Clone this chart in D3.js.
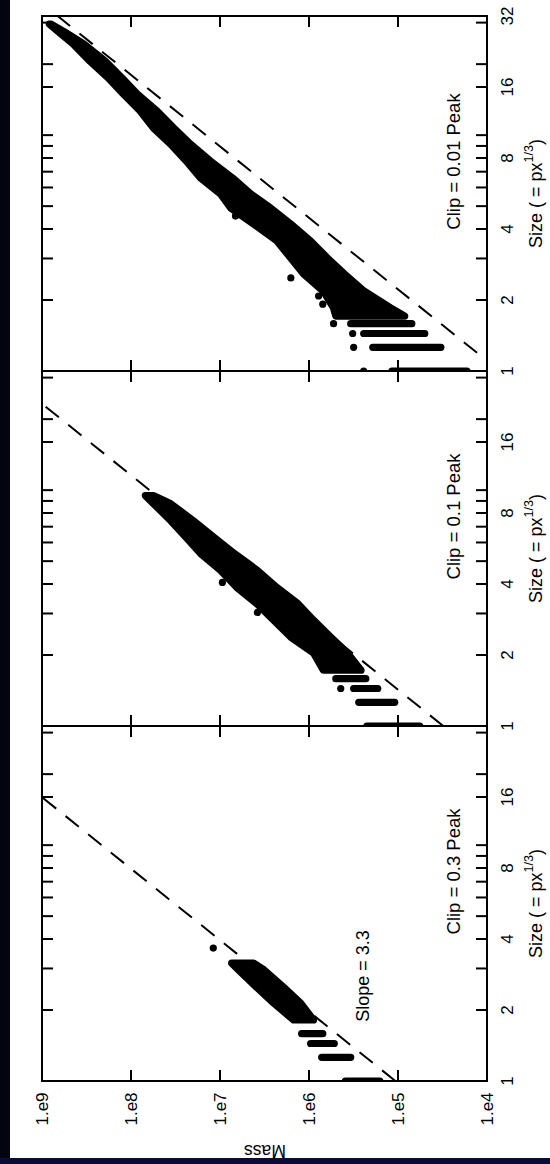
<!DOCTYPE html>
<html>
<head>
<meta charset="utf-8">
<script src="https://cdn.jsdelivr.net/npm/d3@7"></script>
<style>
  html, body { margin: 0; padding: 0; background: #fff; }
  svg { display: block; }
</style>
</head>
<body>
<script>
// Mass against size (size = pixels^(1/3)) for objects found at three clipping levels.

const massTicks = [1e9, 1e8, 1e7, 1e6, 1e5, 1e4];
const massTickLabels = ["1.e9", "1.e8", "1.e7", "1.e6", "1.e5", "1.e4"];
const sizeTicks = [1, 2, 3, 4, 5, 6, 7, 8, 9, 10, 16, 20, 30, 32];
const sizeLabelValues = [1, 2, 4, 8, 16, 32];
const clipLevels = ["0.01", "0.1", "0.3"];

// reference power law: mass = refMassAtUnitSize * size^refSlope
const refSlope = 3.3;
const refMassAtUnitSize = [7.2e3, 3.1e4, 1.07e5];

// small objects: one row of points per discrete size  [size, largest mass, smallest mass]
const rowsClip001 = [[1, 1.17e5, 1.68e4], [1.26, 1.92e5, 3.3e4], [1.442, 2.43e5, 5.0e4], [1.587, 3.4e5, 7.0e4]];
const rowsClip01  = [[1, 2.24e5, 5.7e4], [1.26, 2.76e5, 1.09e5], [1.442, 3.15e5, 1.69e5], [1.587, 5.0e5, 2.3e5]];
const rowsClip03  = [[1, 3.9e5, 1.6e5], [1.26, 7.2e5, 3.4e5], [1.442, 9.6e5, 5.2e5], [1.587, 1.21e6, 7.0e5]];

// larger objects: extent of the dense cloud of points  [size, largest mass, smallest mass]
const cloudClip001 = [
  [1.71, 5.0e5, 8.4e4], [1.85, 5.3e5, 1.2e5], [2.18, 6.9e5, 2.4e5], [2.58, 1.15e6, 4.0e5],
  [3.01, 1.6e6, 6.2e5], [3.56, 2.3e6, 9.6e5], [4.20, 4.2e6, 1.6e6], [4.91, 7.6e6, 2.7e6],
  [5.63, 9.9e6, 4.5e6], [6.58, 1.66e7, 7.2e6], [7.77, 2.4e7, 1.28e7], [9.17, 3.6e7, 2.15e7],
  [10.72, 5.6e7, 3.3e7], [12.66, 7.9e7, 5.1e7], [14.94, 1.22e8, 8.5e7], [17.47, 1.8e8, 1.26e8],
  [20.6, 2.9e8, 1.95e8], [24.4, 4.5e8, 3.4e8], [27.4, 6.5e8, 5.6e8], [29.6, 8.3e8, 8.0e8]
];
const cloudClip01 = [
  [1.725, 6.9e5, 2.6e5], [2.04, 8.9e5, 3.7e5], [2.38, 1.6e6, 5.7e5], [2.81, 2.5e6, 8.9e5],
  [3.31, 3.9e6, 1.34e6], [3.87, 6.5e6, 2.3e6], [4.57, 9.9e6, 3.8e6], [5.39, 1.66e7, 6.9e6],
  [6.30, 2.4e7, 1.16e7], [7.43, 3.6e7, 2.0e7], [8.77, 5.6e7, 3.6e7], [9.48, 6.9e7, 5.6e7]
];
const cloudClip03 = [
  [1.814, 1.49e6, 8.9e5], [2.14, 2.5e6, 1.24e6], [2.50, 3.9e6, 1.93e6],
  [2.96, 6.2e6, 3.2e6], [3.16, 7.4e6, 4.2e6]
];

// isolated points  [size, mass]
const pointsClip001 = [[1, 2.43e5], [1.26, 3.15e5], [1.442, 3.23e5], [1.587, 5.3e5],
                       [1.92, 7.0e5], [2.08, 7.8e5], [2.48, 1.6e6], [4.54, 6.7e6]];
const pointsClip01  = [[1.442, 4.4e5], [3.03, 3.8e6], [4.06, 9.4e6]];
const pointsClip03  = [[3.66, 1.19e7]];

const panelRows = [rowsClip001, rowsClip01, rowsClip03];
const panelClouds = [cloudClip001, cloudClip01, cloudClip03];
const panelPoints = [pointsClip001, pointsClip01, pointsClip03];

// ---------------------------------------------------------------------------

const W = 550, H = 1164;
const plotLeft = 42, plotRight = 487, plotTop = 16, plotBottom = 1081;
const panelH = (plotBottom - plotTop) / 3;
const ink = "#000";
const font = "'Liberation Sans', Arial, Helvetica, sans-serif";
const dotR = 3.6;

const svg = d3.select("body").append("svg")
  .attr("width", W).attr("height", H)
  .style("font-family", font);

svg.append("rect").attr("width", W).attr("height", H).attr("fill", "#fff");

// window edges
svg.append("rect").attr("x", 0).attr("y", 0).attr("width", 10).attr("height", H).attr("fill", "#03040f");
svg.append("rect").attr("x", 0).attr("y", 1158).attr("width", W).attr("height", H - 1158).attr("fill", "#0a0b36");

const x = d3.scaleLog().domain([1e9, 1e4]).range([plotLeft, plotRight]);

clipLevels.forEach((clip, i) => {
  const y0 = plotTop + i * panelH, y1 = y0 + panelH;
  const y = d3.scaleLog().base(2).domain([1, 32]).range([y1, y0]);
  const g = svg.append("g");

  const clipId = "panel-clip-" + i;
  svg.append("clipPath").attr("id", clipId)
    .append("rect").attr("x", plotLeft).attr("y", y0).attr("width", plotRight - plotLeft).attr("height", panelH);

  const plot = g.append("g").attr("clip-path", `url(#${clipId})`);

  // reference power law
  const refLine = d3.line().x(d => x(d[1])).y(d => y(d[0]));
  const refSizes = [1, 32];
  plot.append("path")
    .datum(refSizes.map(s => [s, refMassAtUnitSize[i] * Math.pow(s, refSlope)]))
    .attr("d", refLine)
    .attr("fill", "none").attr("stroke", ink).attr("stroke-width", 2)
    .attr("stroke-dasharray", "17,12");

  // dense cloud
  const area = d3.area()
    .y(d => y(d[0]))
    .x0(d => x(d[1]))
    .x1(d => x(d[2]));
  plot.append("path")
    .datum(panelClouds[i])
    .attr("d", area)
    .attr("fill", ink).attr("stroke", ink)
    .attr("stroke-width", dotR * 2).attr("stroke-linejoin", "round");

  // discrete-size rows
  plot.selectAll("line.row").data(panelRows[i]).join("line")
    .attr("class", "row")
    .attr("x1", d => x(d[1])).attr("x2", d => x(d[2]))
    .attr("y1", d => y(d[0])).attr("y2", d => y(d[0]))
    .attr("stroke", ink).attr("stroke-width", dotR * 2).attr("stroke-linecap", "round");

  // isolated points
  plot.selectAll("circle").data(panelPoints[i]).join("circle")
    .attr("cx", d => x(d[1])).attr("cy", d => y(d[0])).attr("r", dotR)
    .attr("fill", ink);

  // frame
  g.append("rect").attr("x", plotLeft).attr("y", y0).attr("width", plotRight - plotLeft).attr("height", panelH)
    .attr("fill", "none").attr("stroke", ink).attr("stroke-width", 2);

  const tick = 11;
  // mass ticks, inward from top and bottom of the panel
  massTicks.forEach(m => {
    g.append("line").attr("x1", x(m)).attr("x2", x(m)).attr("y1", y0).attr("y2", y0 + tick)
      .attr("stroke", ink).attr("stroke-width", 2);
    g.append("line").attr("x1", x(m)).attr("x2", x(m)).attr("y1", y1).attr("y2", y1 - tick)
      .attr("stroke", ink).attr("stroke-width", 2);
  });
  // size ticks, inward from both sides
  sizeTicks.forEach(s => {
    g.append("line").attr("x1", plotLeft).attr("x2", plotLeft + tick).attr("y1", y(s)).attr("y2", y(s))
      .attr("stroke", ink).attr("stroke-width", 2);
    g.append("line").attr("x1", plotRight).attr("x2", plotRight - tick).attr("y1", y(s)).attr("y2", y(s))
      .attr("stroke", ink).attr("stroke-width", 2);
  });

  // size labels (the top one only where it does not meet the panel above)
  sizeLabelValues.filter(s => s < 32 || i === 0).forEach(s => {
    g.append("text")
      .attr("transform", `translate(507,${y(s)}) rotate(-90)`)
      .attr("text-anchor", "middle").attr("dominant-baseline", "central")
      .attr("font-size", 17).attr("fill", ink)
      .text(String(s));
  });

  const cy = (y0 + y1) / 2;
  const title = g.append("text")
    .attr("transform", `translate(536,${cy}) rotate(-90)`)
    .attr("text-anchor", "middle").attr("dominant-baseline", "central")
    .attr("font-size", 18).attr("fill", ink);
  title.append("tspan").text("Size ( = px");
  title.append("tspan").attr("font-size", 12.5).attr("dy", -7).text("1/3");
  title.append("tspan").attr("dy", 7).text(")");

  g.append("text")
    .attr("transform", `translate(453,${cy - 32}) rotate(-90)`)
    .attr("text-anchor", "middle").attr("dominant-baseline", "central")
    .attr("font-size", 18.5).attr("fill", ink)
    .text(`Clip = ${clip} Peak`);

  if (i === 2) {
    g.append("text")
      .attr("transform", `translate(363,976) rotate(-90)`)
      .attr("text-anchor", "middle").attr("dominant-baseline", "central")
      .attr("font-size", 18).attr("fill", ink)
      .text(`Slope = ${refSlope}`);
  }
});

// mass axis labels
massTicks.forEach((m, k) => {
  svg.append("text")
    .attr("transform", `translate(${x(m)},1109) rotate(-90)`)
    .attr("text-anchor", "middle").attr("dominant-baseline", "central")
    .attr("font-size", 17).attr("fill", ink)
    .text(massTickLabels[k]);
});

svg.append("text")
  .attr("transform", `translate(265,1151) rotate(180)`)
  .attr("text-anchor", "middle").attr("dominant-baseline", "central")
  .attr("font-size", 17.5).attr("fill", ink)
  .text("Mass");
</script>
</body>
</html>
